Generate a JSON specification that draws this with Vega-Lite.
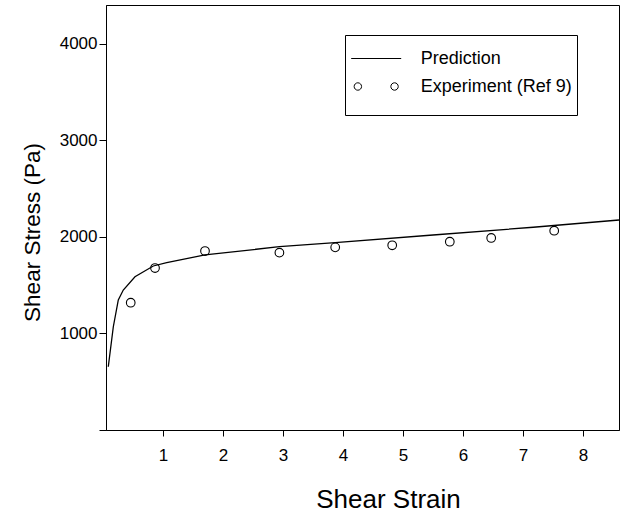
{
  "$schema": "https://vega.github.io/schema/vega-lite/v6.json",
  "autosize": "none",
  "width": 513,
  "height": 425,
  "padding": {"left": 106, "top": 5, "right": 2, "bottom": 84},
  "background": "white",
  "config": {
    "view": {"stroke": "black", "strokeWidth": 1},
    "font": "Liberation Sans",
    "axis": {
      "grid": false,
      "domainColor": "black",
      "tickColor": "black",
      "labelColor": "black",
      "titleColor": "black",
      "labelFont": "Liberation Sans",
      "titleFont": "Liberation Sans",
      "titleFontWeight": "normal",
      "labelFontSize": 17,
      "tickSize": 7
    }
  },
  "data": {
    "values": [
      {"series": "Prediction", "strain": 0.088, "stress": 655},
      {"series": "Prediction", "strain": 0.172, "stress": 1069},
      {"series": "Prediction", "strain": 0.255, "stress": 1346},
      {"series": "Prediction", "strain": 0.338, "stress": 1449},
      {"series": "Prediction", "strain": 0.533, "stress": 1587},
      {"series": "Prediction", "strain": 0.838, "stress": 1698},
      {"series": "Prediction", "strain": 1.062, "stress": 1732},
      {"series": "Prediction", "strain": 1.70, "stress": 1812},
      {"series": "Prediction", "strain": 2.94, "stress": 1898},
      {"series": "Prediction", "strain": 3.87, "stress": 1939},
      {"series": "Prediction", "strain": 5.50, "stress": 2019},
      {"series": "Prediction", "strain": 7.17, "stress": 2099},
      {"series": "Prediction", "strain": 8.6, "stress": 2174},
      {"series": "Experiment (Ref 9)", "strain": 0.462, "stress": 1318},
      {"series": "Experiment (Ref 9)", "strain": 0.867, "stress": 1677},
      {"series": "Experiment (Ref 9)", "strain": 1.70, "stress": 1853},
      {"series": "Experiment (Ref 9)", "strain": 2.94, "stress": 1836},
      {"series": "Experiment (Ref 9)", "strain": 3.87, "stress": 1891},
      {"series": "Experiment (Ref 9)", "strain": 4.82, "stress": 1912},
      {"series": "Experiment (Ref 9)", "strain": 5.78, "stress": 1949},
      {"series": "Experiment (Ref 9)", "strain": 6.47, "stress": 1988},
      {"series": "Experiment (Ref 9)", "strain": 7.52, "stress": 2063}
    ]
  },
  "encoding": {
    "x": {
      "field": "strain",
      "type": "quantitative",
      "scale": {"domain": [0.05, 8.6], "nice": false, "zero": false},
      "axis": {
        "title": "Shear Strain",
        "values": [1, 2, 3, 4, 5, 6, 7, 8],
        "tickSize": 6,
        "labelPadding": 11,
        "titleFontSize": 26,
        "titleX": 282,
        "titleY": 77,
        "titleBaseline": "alphabetic",
        "titleAnchor": "middle"
      }
    },
    "y": {
      "field": "stress",
      "type": "quantitative",
      "scale": {"domain": [0, 4400], "nice": false},
      "axis": {
        "title": "Shear Stress (Pa)",
        "values": [0, 1000, 2000, 3000, 4000],
        "format": "d",
        "labelExpr": "datum.value == 0 ? '' : datum.label",
        "labelPadding": 2,
        "titleFontSize": 22.5,
        "titleX": -62,
        "titleY": 227,
        "titleBaseline": "bottom",
        "titleAnchor": "middle"
      }
    }
  },
  "layer": [
    {
      "transform": [{"filter": "datum.series == 'Prediction'"}],
      "mark": {"type": "line", "color": "black", "strokeWidth": 1.3},
      "encoding": {"order": {"field": "strain", "type": "quantitative"}}
    },
    {
      "transform": [{"filter": "datum.series == 'Experiment (Ref 9)'"}],
      "mark": {"type": "point", "shape": "circle", "filled": false, "color": "black", "strokeWidth": 1.1, "size": 75, "opacity": 1}
    },
    {
      "mark": {"type": "point", "filled": false, "color": "black", "opacity": 0},
      "encoding": {
        "shape": {
          "field": "series",
          "type": "nominal",
          "scale": {
            "domain": ["Prediction", "Experiment (Ref 9)"],
            "range": [
              "M -1.389,0 L 1.389,0",
              "M -1.225,0 A 0.206,0.206 0 1,1 -0.813,0 A 0.206,0.206 0 1,1 -1.225,0 Z M 0.813,0 A 0.206,0.206 0 1,1 1.225,0 A 0.206,0.206 0 1,1 0.813,0 Z"
            ]
          },
          "legend": {
            "title": " ",
            "titleOrient": "bottom",
            "titleFontSize": 7,
            "titlePadding": 7,
            "orient": "none",
            "legendX": 239,
            "legendY": 30,
            "padding": 5,
            "strokeColor": "black",
            "symbolSize": 1296,
            "symbolOpacity": 1,
            "symbolStrokeColor": "black",
            "symbolFillColor": "transparent",
            "symbolStrokeWidth": 1,
            "symbolOffset": 7.7,
            "labelOffset": 26,
            "labelFontSize": 18,
            "labelColor": "black",
            "labelFont": "Liberation Sans",
            "rowPadding": -17
          }
        }
      }
    }
  ]
}
